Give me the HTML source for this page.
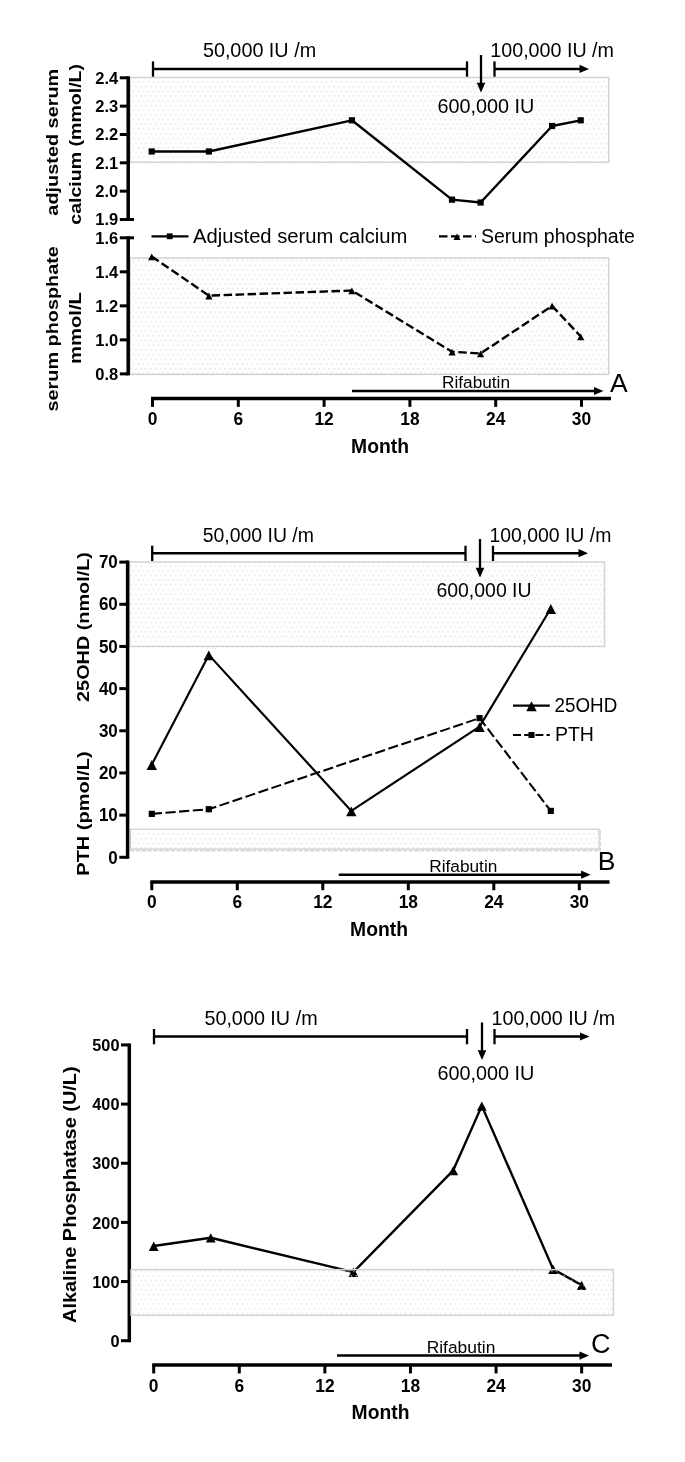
<!DOCTYPE html>
<html lang="en"><head><meta charset="utf-8"><title>Figure</title>
<style>
html,body{margin:0;padding:0;background:#fff;}
svg{display:block;font-family:"Liberation Sans", Arial, sans-serif;}
</style></head><body>
<svg width="685" height="1462" viewBox="0 0 685 1462">
<defs>
<pattern id="dots" x="130" y="77.5" width="4.95" height="9.4" patternUnits="userSpaceOnUse">
<rect width="4.95" height="9.4" fill="#fefefe"/>
<rect x="2.9" y="3.8" width="1.3" height="1.3" fill="#dedede"/>
<rect x="0.4" y="8.5" width="1.3" height="1.3" fill="#dedede"/>
<rect x="0.4" y="-0.9" width="1.3" height="1.3" fill="#dedede"/>
</pattern>
<pattern id="dotsT" x="130" y="77.5" width="4.95" height="9.4" patternUnits="userSpaceOnUse">
<rect x="2.9" y="3.8" width="1.3" height="1.3" fill="#dedede"/>
<rect x="0.4" y="8.5" width="1.3" height="1.3" fill="#dedede"/>
<rect x="0.4" y="-0.9" width="1.3" height="1.3" fill="#dedede"/>
</pattern>
</defs>
<rect width="685" height="1462" fill="#fff"/>
<rect x="130" y="77.5" width="478.70000000000005" height="84.80000000000001" fill="url(#dots)" stroke="#d2d2d2" stroke-width="1.5"/>
<rect x="130" y="258" width="478.70000000000005" height="116.39999999999998" fill="url(#dots)" stroke="#d2d2d2" stroke-width="1.5"/>
<line x1="128.20" y1="76.30" x2="128.20" y2="221.00" stroke="#000" stroke-width="3.5" stroke-linecap="butt"/>
<line x1="119.80" y1="77.80" x2="128.20" y2="77.80" stroke="#000" stroke-width="3.0" stroke-linecap="butt"/>
<text x="118.3" y="83.7" font-size="16.5" font-weight="bold" text-anchor="end">2.4</text>
<line x1="119.80" y1="106.14" x2="128.20" y2="106.14" stroke="#000" stroke-width="3.0" stroke-linecap="butt"/>
<text x="118.3" y="112.04000000000002" font-size="16.5" font-weight="bold" text-anchor="end">2.3</text>
<line x1="119.80" y1="134.48" x2="128.20" y2="134.48" stroke="#000" stroke-width="3.0" stroke-linecap="butt"/>
<text x="118.3" y="140.3799999999999" font-size="16.5" font-weight="bold" text-anchor="end">2.2</text>
<line x1="119.80" y1="162.82" x2="128.20" y2="162.82" stroke="#000" stroke-width="3.0" stroke-linecap="butt"/>
<text x="118.3" y="168.71999999999994" font-size="16.5" font-weight="bold" text-anchor="end">2.1</text>
<line x1="119.80" y1="191.16" x2="128.20" y2="191.16" stroke="#000" stroke-width="3.0" stroke-linecap="butt"/>
<text x="118.3" y="197.05999999999997" font-size="16.5" font-weight="bold" text-anchor="end">2.0</text>
<line x1="119.80" y1="219.50" x2="128.20" y2="219.50" stroke="#000" stroke-width="3.0" stroke-linecap="butt"/>
<text x="118.3" y="225.4" font-size="16.5" font-weight="bold" text-anchor="end">1.9</text>
<line x1="128.20" y1="236.30" x2="128.20" y2="375.38" stroke="#000" stroke-width="3.5" stroke-linecap="butt"/>
<line x1="119.80" y1="237.80" x2="128.20" y2="237.80" stroke="#000" stroke-width="3.0" stroke-linecap="butt"/>
<text x="118.3" y="243.70000000000002" font-size="16.5" font-weight="bold" text-anchor="end">1.6</text>
<line x1="119.80" y1="271.82" x2="128.20" y2="271.82" stroke="#000" stroke-width="3.0" stroke-linecap="butt"/>
<text x="118.3" y="277.72" font-size="16.5" font-weight="bold" text-anchor="end">1.4</text>
<line x1="119.80" y1="305.84" x2="128.20" y2="305.84" stroke="#000" stroke-width="3.0" stroke-linecap="butt"/>
<text x="118.3" y="311.74" font-size="16.5" font-weight="bold" text-anchor="end">1.2</text>
<line x1="119.80" y1="339.86" x2="128.20" y2="339.86" stroke="#000" stroke-width="3.0" stroke-linecap="butt"/>
<text x="118.3" y="345.76" font-size="16.5" font-weight="bold" text-anchor="end">1.0</text>
<line x1="119.80" y1="373.88" x2="128.20" y2="373.88" stroke="#000" stroke-width="3.0" stroke-linecap="butt"/>
<text x="118.3" y="379.78" font-size="16.5" font-weight="bold" text-anchor="end">0.8</text>
<line x1="128.20" y1="219.50" x2="134.00" y2="219.50" stroke="#000" stroke-width="3.0" stroke-linecap="butt"/>
<line x1="128.20" y1="237.80" x2="134.00" y2="237.80" stroke="#000" stroke-width="3.0" stroke-linecap="butt"/>
<line x1="151.00" y1="398.50" x2="611.00" y2="398.50" stroke="#000" stroke-width="3.5" stroke-linecap="butt"/>
<line x1="152.50" y1="398.50" x2="152.50" y2="406.85" stroke="#000" stroke-width="3.0" stroke-linecap="butt"/>
<text transform="translate(152.50 424.50) scale(1 1.06)" font-size="17.4" font-weight="bold" text-anchor="middle">0</text>
<line x1="238.30" y1="398.50" x2="238.30" y2="406.85" stroke="#000" stroke-width="3.0" stroke-linecap="butt"/>
<text transform="translate(238.30 424.50) scale(1 1.06)" font-size="17.4" font-weight="bold" text-anchor="middle">6</text>
<line x1="324.10" y1="398.50" x2="324.10" y2="406.85" stroke="#000" stroke-width="3.0" stroke-linecap="butt"/>
<text transform="translate(324.10 424.50) scale(1 1.06)" font-size="17.4" font-weight="bold" text-anchor="middle">12</text>
<line x1="409.90" y1="398.50" x2="409.90" y2="406.85" stroke="#000" stroke-width="3.0" stroke-linecap="butt"/>
<text transform="translate(409.90 424.50) scale(1 1.06)" font-size="17.4" font-weight="bold" text-anchor="middle">18</text>
<line x1="495.70" y1="398.50" x2="495.70" y2="406.85" stroke="#000" stroke-width="3.0" stroke-linecap="butt"/>
<text transform="translate(495.70 424.50) scale(1 1.06)" font-size="17.4" font-weight="bold" text-anchor="middle">24</text>
<line x1="581.50" y1="398.50" x2="581.50" y2="406.85" stroke="#000" stroke-width="3.0" stroke-linecap="butt"/>
<text transform="translate(581.50 424.50) scale(1 1.06)" font-size="17.4" font-weight="bold" text-anchor="middle">30</text>
<text transform="translate(380.00 453.00) scale(1 1.07)" font-size="19.3" font-weight="bold" text-anchor="middle">Month</text>
<text transform="translate(58 142.2) rotate(-90) scale(1.243 1)" font-size="16" font-weight="bold" text-anchor="middle">adjusted serum</text>
<text transform="translate(80.6 144.3) rotate(-90) scale(1.222 1)" font-size="16" font-weight="bold" text-anchor="middle">calcium (mmol/L)</text>
<text transform="translate(58 328.8) rotate(-90) scale(1.24 1)" font-size="16" font-weight="bold" text-anchor="middle">serum phosphate</text>
<text transform="translate(80.8 328) rotate(-90) scale(1.263 1)" font-size="16" font-weight="bold" text-anchor="middle">mmol/L</text>
<polyline points="151.70,151.48 208.90,151.48 351.90,120.31 452.00,199.66 480.60,202.50 552.10,125.98 580.70,120.31" fill="none" stroke="#000" stroke-width="2.4" stroke-linejoin="round"/>
<rect x="148.60" y="148.38" width="6.2" height="6.2" fill="#000"/>
<rect x="205.80" y="148.38" width="6.2" height="6.2" fill="#000"/>
<rect x="348.80" y="117.21" width="6.2" height="6.2" fill="#000"/>
<rect x="448.90" y="196.56" width="6.2" height="6.2" fill="#000"/>
<rect x="477.50" y="199.40" width="6.2" height="6.2" fill="#000"/>
<rect x="549.00" y="122.88" width="6.2" height="6.2" fill="#000"/>
<rect x="577.60" y="117.21" width="6.2" height="6.2" fill="#000"/>
<polyline points="151.70,256.51 208.90,295.63 351.90,290.53 452.00,351.77 480.60,353.47 552.10,305.84 580.70,336.46" fill="none" stroke="#000" stroke-width="2.4" stroke-dasharray="8.5 3.5" stroke-linejoin="round"/>
<polygon points="151.70,253.43 148.10,260.27 155.30,260.27" fill="#000"/>
<polygon points="208.90,292.56 205.30,299.40 212.50,299.40" fill="#000"/>
<polygon points="351.90,287.45 348.30,294.29 355.50,294.29" fill="#000"/>
<polygon points="452.00,348.69 448.40,355.53 455.60,355.53" fill="#000"/>
<polygon points="480.60,350.39 477.00,357.23 484.20,357.23" fill="#000"/>
<polygon points="552.10,302.76 548.50,309.60 555.70,309.60" fill="#000"/>
<polygon points="580.70,333.38 577.10,340.22 584.30,340.22" fill="#000"/>
<line x1="151.50" y1="236.40" x2="188.50" y2="236.40" stroke="#000" stroke-width="2.4" stroke-linecap="butt"/>
<rect x="166.80" y="233.40" width="5.8" height="5.8" fill="#000"/>
<text x="193" y="242.7" font-size="19.5" text-anchor="start" textLength="214.4" lengthAdjust="spacingAndGlyphs">Adjusted serum calcium</text>
<line x1="439.00" y1="236.40" x2="476.00" y2="236.40" stroke="#000" stroke-width="2.4" stroke-dasharray="8.5 3.5" stroke-linecap="butt"/>
<polygon points="457.00,233.41 453.50,240.06 460.50,240.06" fill="#000"/>
<text x="481" y="242.7" font-size="19.5" text-anchor="start">Serum phosphate</text>
<line x1="153.00" y1="68.90" x2="467.00" y2="68.90" stroke="#000" stroke-width="2.5" stroke-linecap="butt"/>
<line x1="153.00" y1="61.40" x2="153.00" y2="76.70" stroke="#000" stroke-width="2.3" stroke-linecap="butt"/>
<line x1="467.00" y1="61.40" x2="467.00" y2="76.70" stroke="#000" stroke-width="2.3" stroke-linecap="butt"/>
<text x="259.5" y="57" font-size="19.8" text-anchor="middle">50,000 IU /m</text>
<line x1="481.00" y1="55.00" x2="481.00" y2="83.70" stroke="#000" stroke-width="2.3" stroke-linecap="butt"/>
<polygon points="481,92.5 476.7,82.7 485.3,82.7" fill="#000"/>
<text x="486" y="113" font-size="19.8" text-anchor="middle">600,000 IU</text>
<line x1="494.50" y1="61.40" x2="494.50" y2="76.70" stroke="#000" stroke-width="2.3" stroke-linecap="butt"/>
<line x1="494.50" y1="68.90" x2="580.50" y2="68.90" stroke="#000" stroke-width="2.5" stroke-linecap="butt"/>
<polygon points="589,68.9 579.5,64.80000000000001 579.5,73.0" fill="#000"/>
<text x="490.3" y="57" font-size="19.7" text-anchor="start">100,000 IU /m</text>
<line x1="352.00" y1="391.00" x2="595.00" y2="391.00" stroke="#000" stroke-width="2.5" stroke-linecap="butt"/>
<polygon points="603.5,391 594.0,386.9 594.0,395.1" fill="#000"/>
<text x="476" y="387.5" font-size="17.25" text-anchor="middle">Rifabutin</text>
<text x="610" y="391.7" font-size="26.5" text-anchor="start">A</text>
<rect x="129.5" y="562" width="475.0" height="84.5" fill="url(#dots)" stroke="#d2d2d2" stroke-width="1.5"/>
<rect x="130.5" y="829.2" width="468.5" height="19.8" fill="url(#dots)" stroke="#c6c6c6" stroke-width="1"/>
<line x1="130.00" y1="850.70" x2="600.60" y2="850.70" stroke="#cfcfcf" stroke-width="1.3" stroke-dasharray="4.5 1.3" stroke-linecap="butt"/>
<line x1="600.20" y1="830.00" x2="600.20" y2="851.00" stroke="#d4d4d4" stroke-width="1.5" stroke-dasharray="4.5 1.3" stroke-linecap="butt"/>
<line x1="127.60" y1="560.61" x2="127.60" y2="858.80" stroke="#000" stroke-width="3.5" stroke-linecap="butt"/>
<line x1="119.30" y1="562.11" x2="127.60" y2="562.11" stroke="#000" stroke-width="3.0" stroke-linecap="butt"/>
<text transform="translate(117.80 568.31) scale(1 1.04)" font-size="17" font-weight="bold" text-anchor="end">70</text>
<line x1="119.30" y1="604.28" x2="127.60" y2="604.28" stroke="#000" stroke-width="3.0" stroke-linecap="butt"/>
<text transform="translate(117.80 610.48) scale(1 1.04)" font-size="17" font-weight="bold" text-anchor="end">60</text>
<line x1="119.30" y1="646.45" x2="127.60" y2="646.45" stroke="#000" stroke-width="3.0" stroke-linecap="butt"/>
<text transform="translate(117.80 652.65) scale(1 1.04)" font-size="17" font-weight="bold" text-anchor="end">50</text>
<line x1="119.30" y1="688.62" x2="127.60" y2="688.62" stroke="#000" stroke-width="3.0" stroke-linecap="butt"/>
<text transform="translate(117.80 694.82) scale(1 1.04)" font-size="17" font-weight="bold" text-anchor="end">40</text>
<line x1="119.30" y1="730.79" x2="127.60" y2="730.79" stroke="#000" stroke-width="3.0" stroke-linecap="butt"/>
<text transform="translate(117.80 736.99) scale(1 1.04)" font-size="17" font-weight="bold" text-anchor="end">30</text>
<line x1="119.30" y1="772.96" x2="127.60" y2="772.96" stroke="#000" stroke-width="3.0" stroke-linecap="butt"/>
<text transform="translate(117.80 779.16) scale(1 1.04)" font-size="17" font-weight="bold" text-anchor="end">20</text>
<line x1="119.30" y1="815.13" x2="127.60" y2="815.13" stroke="#000" stroke-width="3.0" stroke-linecap="butt"/>
<text transform="translate(117.80 821.33) scale(1 1.04)" font-size="17" font-weight="bold" text-anchor="end">10</text>
<line x1="119.30" y1="857.30" x2="127.60" y2="857.30" stroke="#000" stroke-width="3.0" stroke-linecap="butt"/>
<text transform="translate(117.80 863.50) scale(1 1.04)" font-size="17" font-weight="bold" text-anchor="end">0</text>
<line x1="150.30" y1="881.90" x2="609.50" y2="881.90" stroke="#000" stroke-width="3.5" stroke-linecap="butt"/>
<line x1="151.80" y1="881.90" x2="151.80" y2="890.25" stroke="#000" stroke-width="3.0" stroke-linecap="butt"/>
<text transform="translate(151.80 908.00) scale(1 1.06)" font-size="17.4" font-weight="bold" text-anchor="middle">0</text>
<line x1="237.30" y1="881.90" x2="237.30" y2="890.25" stroke="#000" stroke-width="3.0" stroke-linecap="butt"/>
<text transform="translate(237.30 908.00) scale(1 1.06)" font-size="17.4" font-weight="bold" text-anchor="middle">6</text>
<line x1="322.80" y1="881.90" x2="322.80" y2="890.25" stroke="#000" stroke-width="3.0" stroke-linecap="butt"/>
<text transform="translate(322.80 908.00) scale(1 1.06)" font-size="17.4" font-weight="bold" text-anchor="middle">12</text>
<line x1="408.30" y1="881.90" x2="408.30" y2="890.25" stroke="#000" stroke-width="3.0" stroke-linecap="butt"/>
<text transform="translate(408.30 908.00) scale(1 1.06)" font-size="17.4" font-weight="bold" text-anchor="middle">18</text>
<line x1="493.80" y1="881.90" x2="493.80" y2="890.25" stroke="#000" stroke-width="3.0" stroke-linecap="butt"/>
<text transform="translate(493.80 908.00) scale(1 1.06)" font-size="17.4" font-weight="bold" text-anchor="middle">24</text>
<line x1="579.30" y1="881.90" x2="579.30" y2="890.25" stroke="#000" stroke-width="3.0" stroke-linecap="butt"/>
<text transform="translate(579.30 908.00) scale(1 1.06)" font-size="17.4" font-weight="bold" text-anchor="middle">30</text>
<text transform="translate(379.00 936.00) scale(1 1.07)" font-size="19.3" font-weight="bold" text-anchor="middle">Month</text>
<text transform="translate(89 627) rotate(-90) scale(1.196 1)" font-size="16.6" font-weight="bold" text-anchor="middle">25OHD (nmol/L)</text>
<text transform="translate(89 813.5) rotate(-90) scale(1.205 1)" font-size="16.6" font-weight="bold" text-anchor="middle">PTH (pmol/L)</text>
<polyline points="151.80,764.53 208.80,654.88 351.30,810.91 479.55,726.57 550.80,608.50" fill="none" stroke="#000" stroke-width="2.15" stroke-linejoin="round"/>
<polygon points="151.80,760.08 146.60,769.96 157.00,769.96" fill="#000"/>
<polygon points="208.80,650.44 203.60,660.32 214.00,660.32" fill="#000"/>
<polygon points="351.30,806.47 346.10,816.35 356.50,816.35" fill="#000"/>
<polygon points="479.55,722.13 474.35,732.01 484.75,732.01" fill="#000"/>
<polygon points="550.80,604.05 545.60,613.93 556.00,613.93" fill="#000"/>
<polyline points="151.80,813.86 208.80,809.23 479.55,718.14 550.80,810.91" fill="none" stroke="#000" stroke-width="2.05" stroke-dasharray="10.2 3.5" stroke-linejoin="round"/>
<rect x="148.70" y="810.76" width="6.2" height="6.2" fill="#000"/>
<rect x="205.70" y="806.13" width="6.2" height="6.2" fill="#000"/>
<rect x="476.45" y="715.04" width="6.2" height="6.2" fill="#000"/>
<rect x="547.70" y="807.81" width="6.2" height="6.2" fill="#000"/>
<line x1="513.00" y1="705.70" x2="549.80" y2="705.70" stroke="#000" stroke-width="2.3" stroke-linecap="butt"/>
<polygon points="531.50,701.25 526.30,711.13 536.70,711.13" fill="#000"/>
<text x="554.6" y="711.9" font-size="19.5" text-anchor="start" textLength="62.6" lengthAdjust="spacingAndGlyphs">25OHD</text>
<line x1="513.00" y1="735.00" x2="549.80" y2="735.00" stroke="#000" stroke-width="2.2" stroke-dasharray="8 3.2" stroke-linecap="butt"/>
<rect x="528.50" y="732.00" width="6" height="6" fill="#000"/>
<text x="554.9" y="741.3" font-size="19.5" text-anchor="start">PTH</text>
<line x1="152.20" y1="553.20" x2="465.50" y2="553.20" stroke="#000" stroke-width="2.5" stroke-linecap="butt"/>
<line x1="152.20" y1="545.70" x2="152.20" y2="561.00" stroke="#000" stroke-width="2.3" stroke-linecap="butt"/>
<line x1="465.50" y1="545.70" x2="465.50" y2="561.00" stroke="#000" stroke-width="2.3" stroke-linecap="butt"/>
<text x="258.3" y="541.6" font-size="19.45" text-anchor="middle">50,000 IU /m</text>
<line x1="480.00" y1="539.00" x2="480.00" y2="568.70" stroke="#000" stroke-width="2.3" stroke-linecap="butt"/>
<polygon points="480,577.5 475.7,567.7 484.3,567.7" fill="#000"/>
<text x="484" y="597" font-size="19.45" text-anchor="middle">600,000 IU</text>
<line x1="493.00" y1="545.70" x2="493.00" y2="561.00" stroke="#000" stroke-width="2.3" stroke-linecap="butt"/>
<line x1="493.00" y1="553.20" x2="579.50" y2="553.20" stroke="#000" stroke-width="2.5" stroke-linecap="butt"/>
<polygon points="588,553.2 578.5,549.1 578.5,557.3000000000001" fill="#000"/>
<text x="489.5" y="541.6" font-size="19.4" text-anchor="start">100,000 IU /m</text>
<line x1="338.80" y1="874.70" x2="582.10" y2="874.70" stroke="#000" stroke-width="2.5" stroke-linecap="butt"/>
<polygon points="590.6,874.7 581.1,870.6 581.1,878.8000000000001" fill="#000"/>
<text x="463.3" y="872" font-size="17.25" text-anchor="middle">Rifabutin</text>
<text x="597.7" y="870" font-size="26.5" text-anchor="start">B</text>
<line x1="129.30" y1="1043.45" x2="129.30" y2="1342.20" stroke="#000" stroke-width="3.5" stroke-linecap="butt"/>
<line x1="121.00" y1="1044.95" x2="129.30" y2="1044.95" stroke="#000" stroke-width="3.0" stroke-linecap="butt"/>
<text transform="translate(119.50 1051.05) scale(1 1.05)" font-size="16.3" font-weight="bold" text-anchor="end">500</text>
<line x1="121.00" y1="1104.10" x2="129.30" y2="1104.10" stroke="#000" stroke-width="3.0" stroke-linecap="butt"/>
<text transform="translate(119.50 1110.20) scale(1 1.05)" font-size="16.3" font-weight="bold" text-anchor="end">400</text>
<line x1="121.00" y1="1163.25" x2="129.30" y2="1163.25" stroke="#000" stroke-width="3.0" stroke-linecap="butt"/>
<text transform="translate(119.50 1169.35) scale(1 1.05)" font-size="16.3" font-weight="bold" text-anchor="end">300</text>
<line x1="121.00" y1="1222.40" x2="129.30" y2="1222.40" stroke="#000" stroke-width="3.0" stroke-linecap="butt"/>
<text transform="translate(119.50 1228.50) scale(1 1.05)" font-size="16.3" font-weight="bold" text-anchor="end">200</text>
<line x1="121.00" y1="1281.55" x2="129.30" y2="1281.55" stroke="#000" stroke-width="3.0" stroke-linecap="butt"/>
<text transform="translate(119.50 1287.65) scale(1 1.05)" font-size="16.3" font-weight="bold" text-anchor="end">100</text>
<line x1="121.00" y1="1340.70" x2="129.30" y2="1340.70" stroke="#000" stroke-width="3.0" stroke-linecap="butt"/>
<text transform="translate(119.50 1346.80) scale(1 1.05)" font-size="16.3" font-weight="bold" text-anchor="end">0</text>
<line x1="152.20" y1="1365.10" x2="612.00" y2="1365.10" stroke="#000" stroke-width="3.5" stroke-linecap="butt"/>
<line x1="153.70" y1="1365.10" x2="153.70" y2="1373.45" stroke="#000" stroke-width="3.0" stroke-linecap="butt"/>
<text transform="translate(153.70 1391.70) scale(1 1.06)" font-size="17.4" font-weight="bold" text-anchor="middle">0</text>
<line x1="239.29" y1="1365.10" x2="239.29" y2="1373.45" stroke="#000" stroke-width="3.0" stroke-linecap="butt"/>
<text transform="translate(239.29 1391.70) scale(1 1.06)" font-size="17.4" font-weight="bold" text-anchor="middle">6</text>
<line x1="324.88" y1="1365.10" x2="324.88" y2="1373.45" stroke="#000" stroke-width="3.0" stroke-linecap="butt"/>
<text transform="translate(324.88 1391.70) scale(1 1.06)" font-size="17.4" font-weight="bold" text-anchor="middle">12</text>
<line x1="410.47" y1="1365.10" x2="410.47" y2="1373.45" stroke="#000" stroke-width="3.0" stroke-linecap="butt"/>
<text transform="translate(410.47 1391.70) scale(1 1.06)" font-size="17.4" font-weight="bold" text-anchor="middle">18</text>
<line x1="496.06" y1="1365.10" x2="496.06" y2="1373.45" stroke="#000" stroke-width="3.0" stroke-linecap="butt"/>
<text transform="translate(496.06 1391.70) scale(1 1.06)" font-size="17.4" font-weight="bold" text-anchor="middle">24</text>
<line x1="581.65" y1="1365.10" x2="581.65" y2="1373.45" stroke="#000" stroke-width="3.0" stroke-linecap="butt"/>
<text transform="translate(581.65 1391.70) scale(1 1.06)" font-size="17.4" font-weight="bold" text-anchor="middle">30</text>
<text transform="translate(380.50 1418.50) scale(1 1.07)" font-size="19.3" font-weight="bold" text-anchor="middle">Month</text>
<text transform="translate(75.8 1194.7) rotate(-90) scale(1.048 1)" font-size="19" font-weight="bold" text-anchor="middle">Alkaline Phosphatase (U/L)</text>
<polyline points="153.70,1246.06 210.76,1237.78 353.41,1272.09 453.26,1170.35 481.80,1105.87 553.12,1269.13 581.65,1285.10" fill="none" stroke="#000" stroke-width="2.4" stroke-linejoin="round"/>
<polygon points="153.70,1241.59 148.80,1250.90 158.60,1250.90" fill="#000"/>
<polygon points="210.76,1233.31 205.86,1242.62 215.66,1242.62" fill="#000"/>
<polygon points="353.41,1267.62 348.51,1276.93 358.31,1276.93" fill="#000"/>
<polygon points="453.26,1165.88 448.37,1175.19 458.16,1175.19" fill="#000"/>
<polygon points="481.80,1101.41 476.90,1110.72 486.69,1110.72" fill="#000"/>
<polygon points="553.12,1264.66 548.22,1273.97 558.02,1273.97" fill="#000"/>
<polygon points="581.65,1280.63 576.75,1289.94 586.55,1289.94" fill="#000"/>
<rect x="131" y="1269.6" width="482.4" height="45.6" fill="url(#dotsT)" stroke="#d2d2d2" stroke-width="1.5"/>
<line x1="154.00" y1="1036.50" x2="467.00" y2="1036.50" stroke="#000" stroke-width="2.5" stroke-linecap="butt"/>
<line x1="154.00" y1="1029.00" x2="154.00" y2="1044.30" stroke="#000" stroke-width="2.3" stroke-linecap="butt"/>
<line x1="467.00" y1="1029.00" x2="467.00" y2="1044.30" stroke="#000" stroke-width="2.3" stroke-linecap="butt"/>
<text x="261" y="1024.9" font-size="19.8" text-anchor="middle">50,000 IU /m</text>
<line x1="482.00" y1="1022.50" x2="482.00" y2="1051.20" stroke="#000" stroke-width="2.3" stroke-linecap="butt"/>
<polygon points="482,1060 477.7,1050.2 486.3,1050.2" fill="#000"/>
<text x="486" y="1079.5" font-size="19.8" text-anchor="middle">600,000 IU</text>
<line x1="494.50" y1="1029.00" x2="494.50" y2="1044.30" stroke="#000" stroke-width="2.3" stroke-linecap="butt"/>
<line x1="494.50" y1="1036.50" x2="581.00" y2="1036.50" stroke="#000" stroke-width="2.5" stroke-linecap="butt"/>
<polygon points="589.5,1036.5 580.0,1032.4 580.0,1040.6" fill="#000"/>
<text x="491.5" y="1024.9" font-size="19.7" text-anchor="start">100,000 IU /m</text>
<line x1="337.00" y1="1355.60" x2="580.50" y2="1355.60" stroke="#000" stroke-width="2.5" stroke-linecap="butt"/>
<polygon points="589,1355.6 579.5,1351.5 579.5,1359.6999999999998" fill="#000"/>
<text x="461" y="1352.5" font-size="17.4" text-anchor="middle">Rifabutin</text>
<text x="591" y="1352.7" font-size="27" text-anchor="start">C</text>
</svg></body></html>
